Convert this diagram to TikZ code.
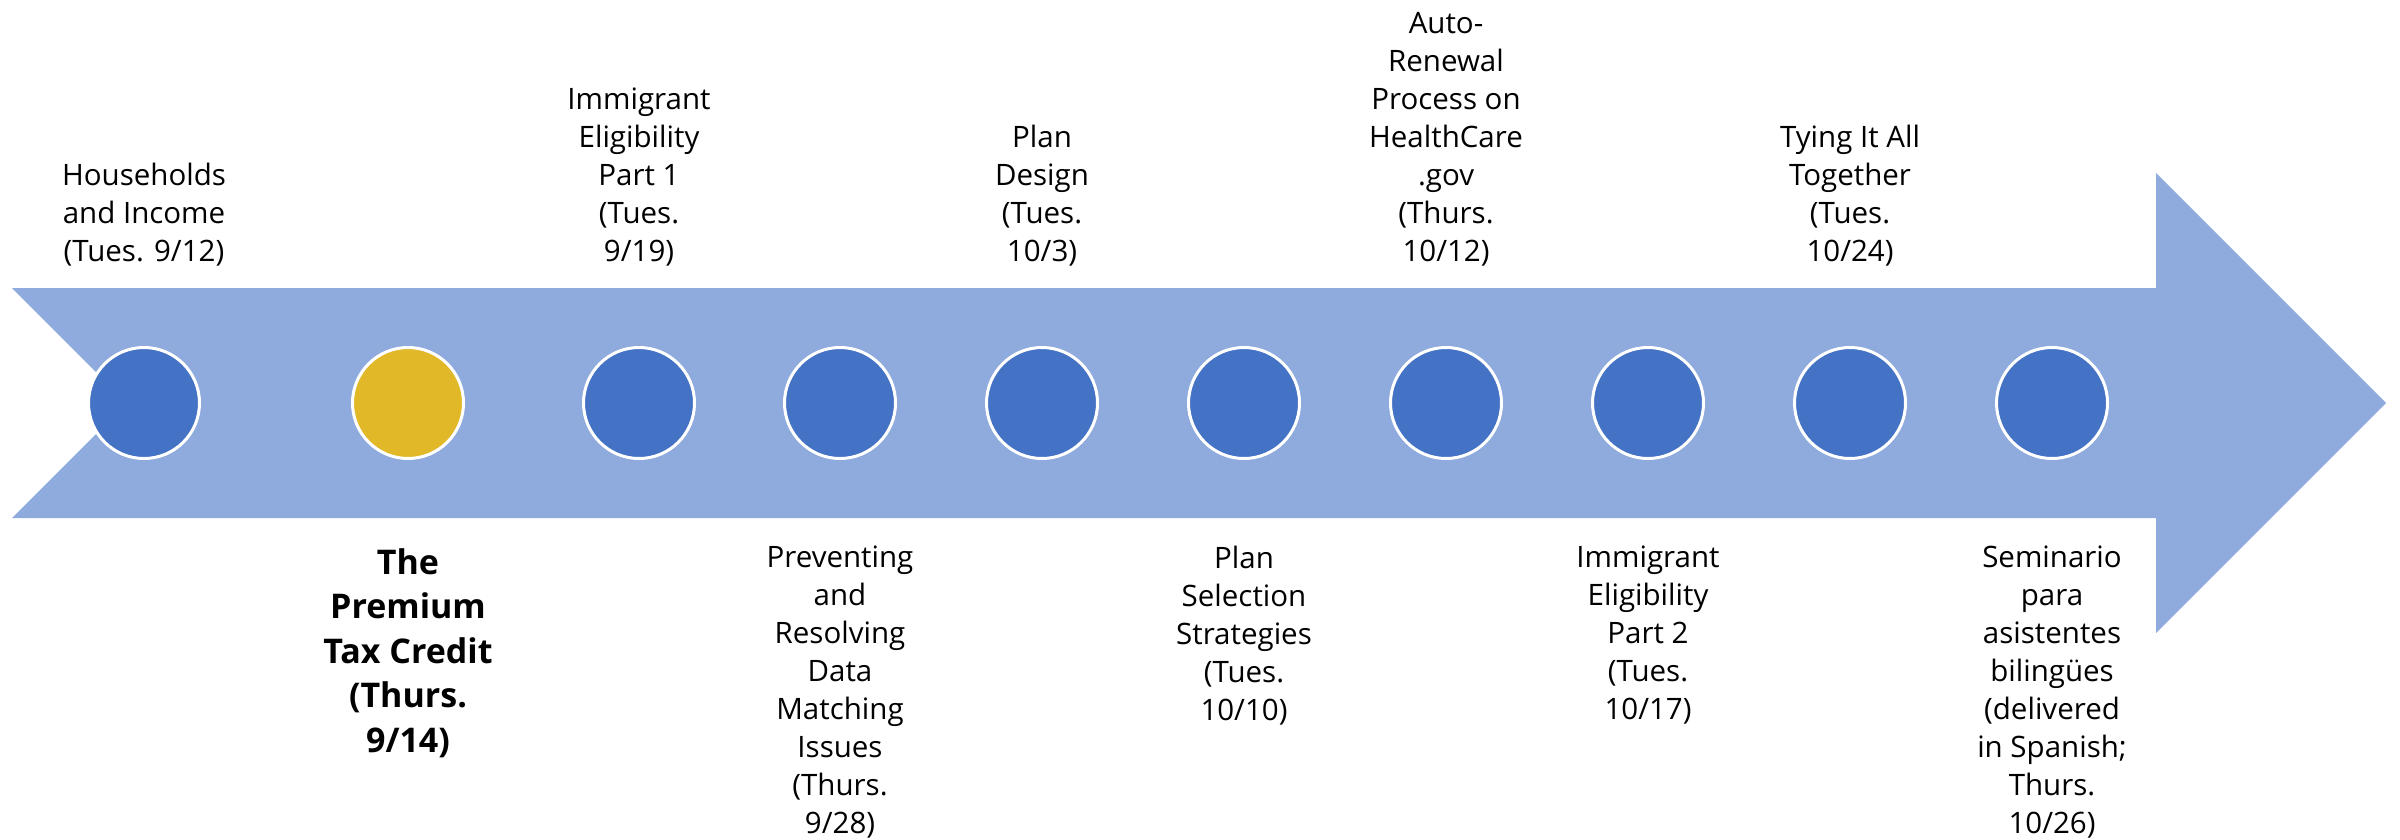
\documentclass[tikz,border=0pt]{standalone}
\usepackage{fontspec}
\setmainfont{Open Sans}
\definecolor{bandblue}{HTML}{8FAADC}
\definecolor{dotblue}{HTML}{4472C4}
\definecolor{dotgold}{HTML}{E1B928}
\begin{document}
\begin{tikzpicture}[x=1pt,y=-1pt,
  band/.style={fill=bandblue, draw=none},
  dot/.style={circle, fill=dotblue, draw=white, line width=3pt, minimum size=111pt, inner sep=0pt},
  keydot/.style={dot, fill=dotgold},
  toplabel/.style={align=center, anchor=south, inner sep=0pt, font=\fontsize{29.5}{37.9}\selectfont},
  botlabel/.style={align=center, anchor=north, inner sep=0pt, font=\fontsize{29.5}{37.9}\selectfont},
  keylabel/.style={botlabel, font=\fontsize{34}{44.5}\selectfont\bfseries}]
\useasboundingbox (0,0) rectangle (2400,839);

% the timeline arrow with a notched tail
\fill[band] (12,288) -- (2156,288) -- (2156,173) -- (2386,403) -- (2156,633)
  -- (2156,518) -- (12,518) -- (127,403) -- cycle;

% session markers
\node[dot]    (c1)  at (144,403)  {};
\node[keydot] (c2)  at (408,403)  {};
\node[dot]    (c3)  at (639,403)  {};
\node[dot]    (c4)  at (840,403)  {};
\node[dot]    (c5)  at (1042,403) {};
\node[dot]    (c6)  at (1244,403) {};
\node[dot]    (c7)  at (1446,403) {};
\node[dot]    (c8)  at (1648,403) {};
\node[dot]    (c9)  at (1850,403) {};
\node[dot]    (c10) at (2052,403) {};

% labels above the arrow
\node[toplabel] (t1) at (c1 |- 0,266) {Households\\and Income\\(Tues. 9/12)};
\node[toplabel] (t3) at (c3 |- 0,266) {Immigrant\\Eligibility\\Part 1\\(Tues.\\9/19)};
\node[toplabel] (t5) at (c5 |- 0,266) {Plan\\Design\\(Tues.\\10/3)};
\node[toplabel] (t7) at (c7 |- 0,266) {Auto-\\Renewal\\Process on\\HealthCare\\.gov\\(Thurs.\\10/12)};
\node[toplabel] (t9) at (c9 |- 0,266) {Tying It All\\Together\\(Tues.\\10/24)};

% labels below the arrow
\node[keylabel] (t2)  at (c2 |- 0,548)  {The\\Premium\\Tax Credit\\(Thurs.\\9/14)};
\node[botlabel] (t4)  at (c4 |- 0,546)  {Preventing\\and\\Resolving\\Data\\Matching\\Issues\\(Thurs.\\9/28)};
\node[botlabel] (t6)  at (c6 |- 0,546)  {Plan\\Selection\\Strategies\\(Tues.\\10/10)};
\node[botlabel] (t8)  at (c8 |- 0,546)  {Immigrant\\Eligibility\\Part 2\\(Tues.\\10/17)};
\node[botlabel] (t10) at (c10 |- 0,546) {Seminario\\para\\asistentes\\bilingües\\(delivered\\in Spanish;\\Thurs.\\10/26)};
\end{tikzpicture}
\end{document}
